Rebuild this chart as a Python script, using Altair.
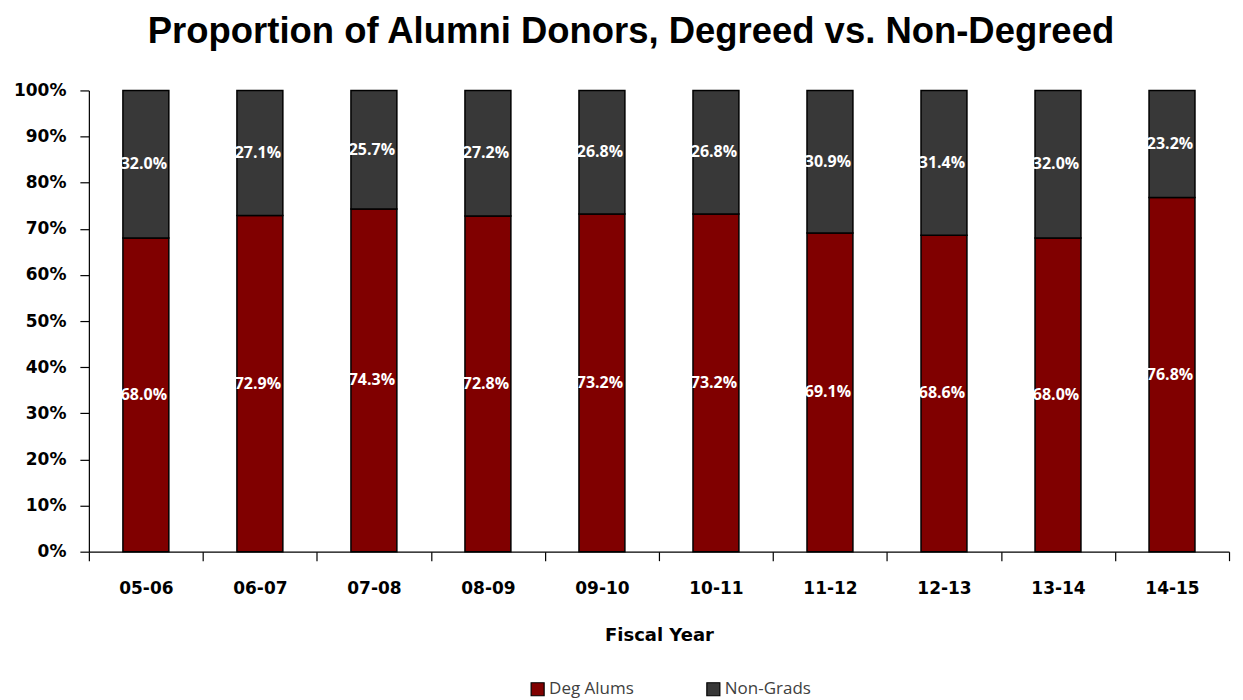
import altair as alt
import pandas as pd

years = ["05-06", "06-07", "07-08", "08-09", "09-10", "10-11", "11-12", "12-13", "13-14", "14-15"]
deg_alums = [68.0, 72.9, 74.3, 72.8, 73.2, 73.2, 69.1, 68.6, 68.0, 76.8]
non_grads = [32.0, 27.1, 25.7, 27.2, 26.8, 26.8, 30.9, 31.4, 32.0, 23.2]
series = ["Deg Alums", "Non-Grads"]
colors = ["#800000", "#383838"]

rows = []
for i, y in enumerate(years):
    rows.append({"year": y, "series": series[0], "value": deg_alums[i], "rank": 0})
    rows.append({"year": y, "series": series[1], "value": non_grads[i], "rank": 1})
df = pd.DataFrame(rows)

base = alt.Chart(df).encode(
    x=alt.X("year:N", sort=years, title="Fiscal Year",
            scale=alt.Scale(paddingInner=0, paddingOuter=0),
            axis=alt.Axis(labelAngle=0, tickBand="extent", labelFont="DejaVu Sans",
                          labelFontWeight="bold", labelFontSize=17, labelColor="black",
                          titleFont="DejaVu Sans", titleFontWeight="bold", titleFontSize=18,
                          titleColor="black", titlePadding=30, labelPadding=20,
                          tickSize=9, tickColor="black", domainColor="black", domainWidth=1.2,
                          tickWidth=1.2)),
)

bars = base.mark_bar(size=46, stroke="black", strokeWidth=1.5).encode(
    y=alt.Y("value:Q", stack="zero", title=None,
            scale=alt.Scale(domain=[0, 100], nice=False),
            axis=alt.Axis(values=list(range(0, 101, 10)), labelExpr="datum.value + '%'",
                          grid=False, labelFont="DejaVu Sans", labelFontWeight="bold",
                          labelFontSize=17, labelColor="black", tickSize=9,
                          tickColor="black", domainColor="black", domainWidth=1.2,
                          tickWidth=1.2, labelPadding=14)),
    color=alt.Color("series:N", sort=series,
                    scale=alt.Scale(domain=series, range=colors),
                    legend=alt.Legend(title=None, orient="none", direction="horizontal",
                                      legendX=441, legendY=591, symbolType="square",
                                      symbolSize=170, symbolStrokeColor="black",
                                      symbolStrokeWidth=1.2, labelFont="Open Sans",
                                      labelFontSize=17, labelColor="#404040",
                                      columnPadding=70, labelOffset=3, symbolOpacity=1)),
    order=alt.Order("rank:Q"),
)

labels = base.transform_window(
    cum="sum(value)", groupby=["year"], sort=[alt.SortField("rank")]
).transform_calculate(
    mid="datum.cum - datum.value / 2",
    lbl="format(datum.value, '.1f') + '%'",
).mark_text(font="Open Sans", fontWeight="bold", fontSize=16, color="white", dx=-2).encode(
    y=alt.Y("mid:Q"),
    text="lbl:N",
)

chart = alt.layer(bars, labels).properties(
    width=1142, height=462,
    title=alt.TitleParams("Proportion of Alumni Donors, Degreed vs. Non-Degreed",
                          font="Liberation Sans", fontSize=36.5, fontWeight="bold",
                          color="black", offset=31, dx=-28),
).configure_view(stroke=None)

chart.save("out.html", embed_options={"renderer": "svg", "actions": False})
